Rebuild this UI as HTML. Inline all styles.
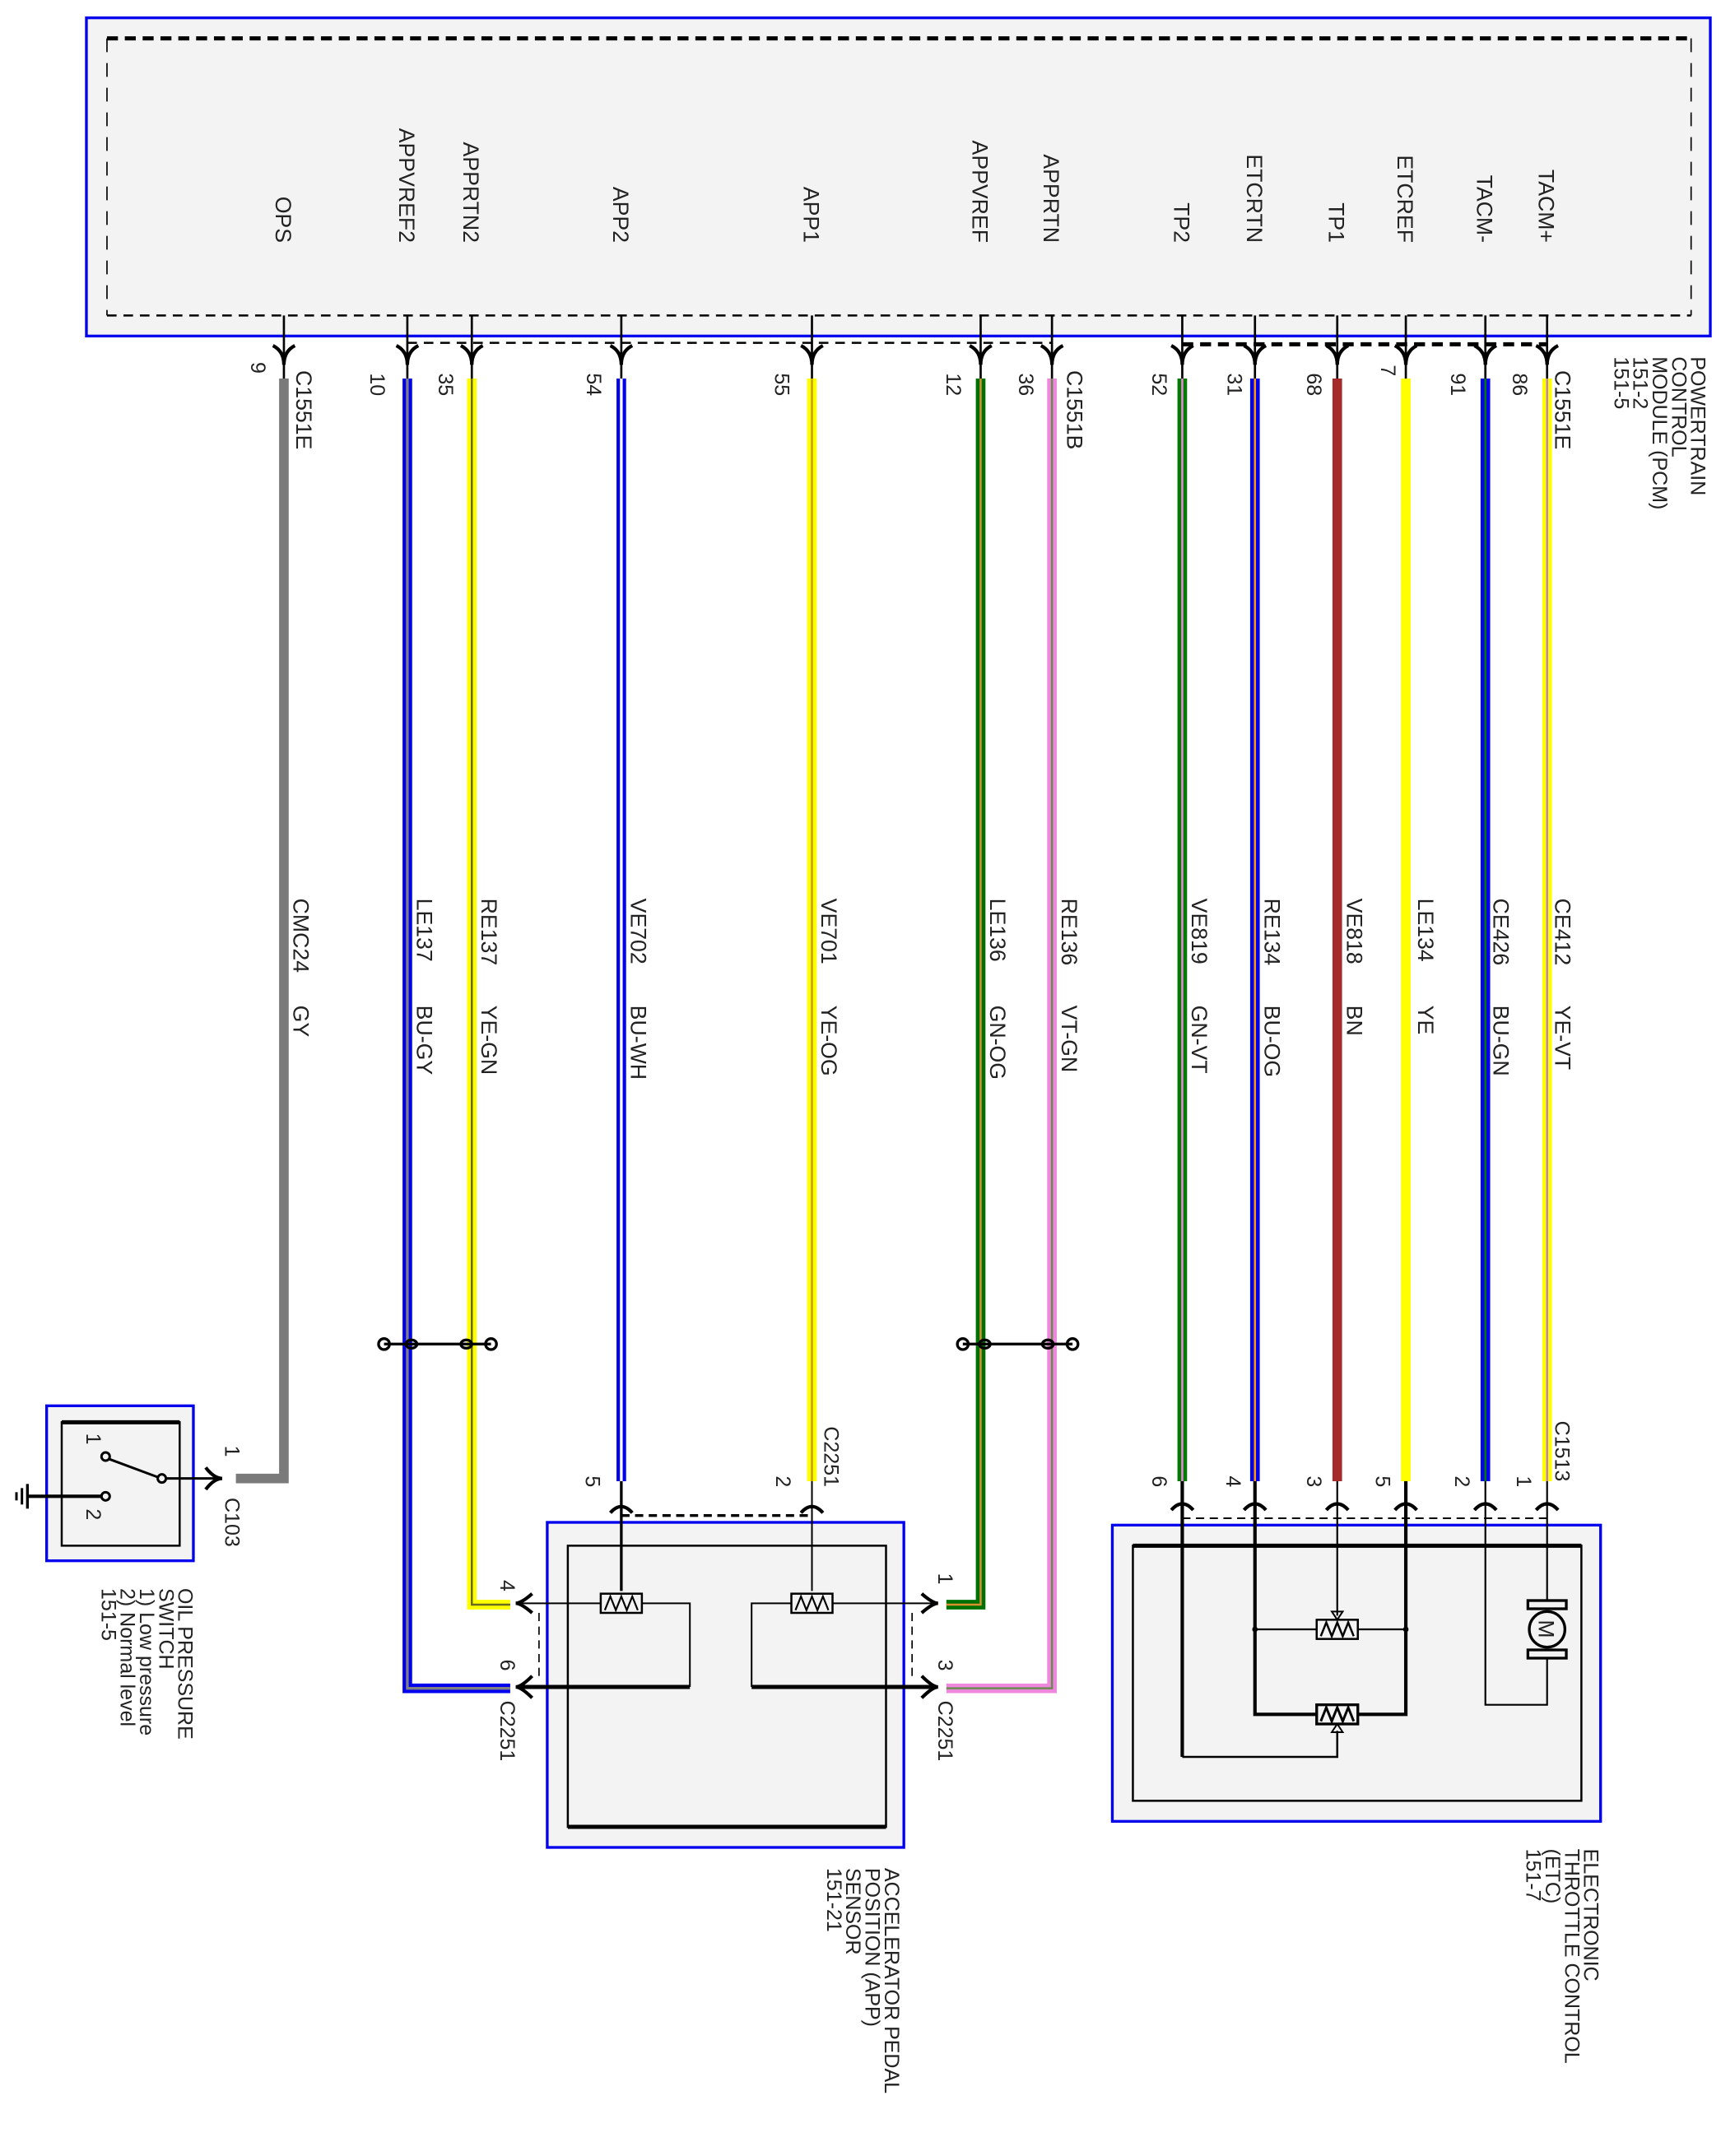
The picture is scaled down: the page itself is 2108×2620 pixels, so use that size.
<!DOCTYPE html>
<html><head><meta charset="utf-8"><style>
html,body{margin:0;padding:0;background:#fff}
svg{display:block}
text{font-family:"Liberation Sans",Arial,sans-serif;fill:#222}
</style></head><body>
<svg width="2108" height="2620" viewBox="0 0 1265 1572" preserveAspectRatio="none" xmlns="http://www.w3.org/2000/svg">
<rect width="1265" height="1572" fill="#fff"/>
<!-- PCM -->
<rect x="63" y="13" width="1184" height="232" fill="#f3f3f3" stroke="#0000ee" stroke-width="2"/>
<line x1="78" y1="28" x2="1233" y2="28" stroke="#000" stroke-width="3" stroke-dasharray="8,5"/>
<line x1="78" y1="230" x2="1233" y2="230" stroke="#000" stroke-width="1.5" stroke-dasharray="7,5"/>
<line x1="78" y1="28" x2="78" y2="230" stroke="#000" stroke-width="1" stroke-dasharray="10,8"/>
<line x1="1233" y1="28" x2="1233" y2="230" stroke="#000" stroke-width="1" stroke-dasharray="10,8"/>
<line x1="297" y1="250" x2="767" y2="250" stroke="#000" stroke-width="1.5" stroke-dasharray="7,5"/>
<line x1="862" y1="251" x2="1128" y2="251" stroke="#000" stroke-width="3" stroke-dasharray="8,5"/>

<g font-size="16">
<text transform="translate(201,177) rotate(90)" text-anchor="end">OPS</text>
<text transform="translate(291,177) rotate(90)" text-anchor="end">APPVREF2</text>
<text transform="translate(338,177) rotate(90)" text-anchor="end">APPRTN2</text>
<text transform="translate(447,177) rotate(90)" text-anchor="end">APP2</text>
<text transform="translate(586,177) rotate(90)" text-anchor="end">APP1</text>
<text transform="translate(709,177) rotate(90)" text-anchor="end">APPVREF</text>
<text transform="translate(761,177) rotate(90)" text-anchor="end">APPRTN</text>
<text transform="translate(856,177) rotate(90)" text-anchor="end">TP2</text>
<text transform="translate(909,177) rotate(90)" text-anchor="end">ETCRTN</text>
<text transform="translate(969,177) rotate(90)" text-anchor="end">TP1</text>
<text transform="translate(1019,177) rotate(90)" text-anchor="end">ETCREF</text>
<text transform="translate(1077,177) rotate(90)" text-anchor="end">TACM-</text>
<text transform="translate(1122,177) rotate(90)" text-anchor="end">TACM+</text>
</g>

<g stroke="#000" fill="none">
<g stroke-width="1.6">
<line x1="207" y1="230" x2="207" y2="276"/><line x1="297" y1="230" x2="297" y2="276"/><line x1="344" y1="230" x2="344" y2="276"/><line x1="453" y1="230" x2="453" y2="276"/><line x1="592" y1="230" x2="592" y2="276"/><line x1="715" y1="230" x2="715" y2="276"/><line x1="767" y1="230" x2="767" y2="276"/><line x1="862" y1="230" x2="862" y2="276"/><line x1="915" y1="230" x2="915" y2="276"/><line x1="975" y1="230" x2="975" y2="276"/><line x1="1025" y1="230" x2="1025" y2="276"/><line x1="1083" y1="230" x2="1083" y2="276"/><line x1="1128" y1="230" x2="1128" y2="276"/>
</g>
<g stroke-width="2.5">
<path d="M199 252 Q207 256 207 266 Q207 256 215 252"/><path d="M289 252 Q297 256 297 266 Q297 256 305 252"/><path d="M336 252 Q344 256 344 266 Q344 256 352 252"/><path d="M445 252 Q453 256 453 266 Q453 256 461 252"/><path d="M584 252 Q592 256 592 266 Q592 256 600 252"/><path d="M707 252 Q715 256 715 266 Q715 256 723 252"/><path d="M759 252 Q767 256 767 266 Q767 256 775 252"/><path d="M854 252 Q862 256 862 266 Q862 256 870 252"/><path d="M907 252 Q915 256 915 266 Q915 256 923 252"/><path d="M967 252 Q975 256 975 266 Q975 256 983 252"/><path d="M1017 252 Q1025 256 1025 266 Q1025 256 1033 252"/><path d="M1075 252 Q1083 256 1083 266 Q1083 256 1091 252"/><path d="M1120 252 Q1128 256 1128 266 Q1128 256 1136 252"/>
</g>
</g>

<g font-size="15">
<text transform="translate(183,264) rotate(90)">9</text>
<text transform="translate(270,272) rotate(90)">10</text>
<text transform="translate(320,272) rotate(90)">35</text>
<text transform="translate(428,272) rotate(90)">54</text>
<text transform="translate(565,272) rotate(90)">55</text>
<text transform="translate(690,272) rotate(90)">12</text>
<text transform="translate(743,272) rotate(90)">36</text>
<text transform="translate(840,272) rotate(90)">52</text>
<text transform="translate(895,272) rotate(90)">31</text>
<text transform="translate(953,272) rotate(90)">68</text>
<text transform="translate(1007,266) rotate(90)">7</text>
<text transform="translate(1058,272) rotate(90)">91</text>
<text transform="translate(1103,272) rotate(90)">86</text>
<text transform="translate(216,270) rotate(90)" font-size="16">C1551E</text>
<text transform="translate(778,270) rotate(90)" font-size="16">C1551B</text>
<text transform="translate(1134,270) rotate(90)" font-size="16">C1551E</text>
<text transform="translate(1233,260) rotate(90)">POWERTRAIN</text>
<text transform="translate(1219,260) rotate(90)">CONTROL</text>
<text transform="translate(1205,260) rotate(90)">MODULE (PCM)</text>
<text transform="translate(1191,260) rotate(90)">151-2</text>
<text transform="translate(1177,260) rotate(90)">151-5</text>
</g>

<!-- wires -->
<g fill="none" stroke-linejoin="miter">
<polyline points="207,276 207,1078 172,1078" stroke="#7a7a7a" stroke-width="7"/>
<polyline points="297,276 297,1231 372,1231" stroke="#0000ee" stroke-width="7"/>
<polyline points="297,276 297,1231 372,1231" stroke="#808080" stroke-width="2"/>
<polyline points="344,276 344,1170 372,1170" stroke="#ffff00" stroke-width="7"/>
<polyline points="344,276 344,1170 372,1170" stroke="#6a6a20" stroke-width="1.5"/>
<polyline points="453,276 453,1080" stroke="#0000ee" stroke-width="7"/>
<polyline points="453,276 453,1080" stroke="#ffffff" stroke-width="2"/>
<polyline points="592,276 592,1080" stroke="#ffff00" stroke-width="7"/>
<polyline points="592,276 592,1080" stroke="#c8a000" stroke-width="1.5"/>
<polyline points="715,276 715,1170 690,1170" stroke="#007000" stroke-width="7"/>
<polyline points="715,276 715,1170 690,1170" stroke="#d89030" stroke-width="1.5"/>
<polyline points="767,276 767,1231 690,1231" stroke="#ee88dd" stroke-width="7"/>
<polyline points="767,276 767,1231 690,1231" stroke="#6a8a50" stroke-width="1.5"/>
<line x1="862" y1="276" x2="862" y2="1080" stroke="#007a00" stroke-width="7"/>
<line x1="862" y1="276" x2="862" y2="1080" stroke="#ee88dd" stroke-width="1.5"/>
<line x1="915" y1="276" x2="915" y2="1080" stroke="#0000ee" stroke-width="7"/>
<line x1="915" y1="276" x2="915" y2="1080" stroke="#ff9900" stroke-width="1.5"/>
<line x1="975" y1="276" x2="975" y2="1080" stroke="#a52a2a" stroke-width="7"/>
<line x1="1025" y1="276" x2="1025" y2="1080" stroke="#ffff00" stroke-width="7"/>
<line x1="1083" y1="276" x2="1083" y2="1080" stroke="#0000ee" stroke-width="7"/>
<line x1="1083" y1="276" x2="1083" y2="1080" stroke="#007a00" stroke-width="1.5"/>
<line x1="1128" y1="276" x2="1128" y2="1080" stroke="#ffff00" stroke-width="7"/>
<line x1="1128" y1="276" x2="1128" y2="1080" stroke="#c080c0" stroke-width="1.5"/>
</g>

<g font-size="16">
<text transform="translate(214,655) rotate(90)">CMC24</text><text transform="translate(214,733) rotate(90)">GY</text>
<text transform="translate(304,655) rotate(90)">LE137</text><text transform="translate(304,733) rotate(90)">BU-GY</text>
<text transform="translate(351,655) rotate(90)">RE137</text><text transform="translate(351,733) rotate(90)">YE-GN</text>
<text transform="translate(460,655) rotate(90)">VE702</text><text transform="translate(460,733) rotate(90)">BU-WH</text>
<text transform="translate(599,655) rotate(90)">VE701</text><text transform="translate(599,733) rotate(90)">YE-OG</text>
<text transform="translate(722,655) rotate(90)">LE136</text><text transform="translate(722,733) rotate(90)">GN-OG</text>
<text transform="translate(774,655) rotate(90)">RE136</text><text transform="translate(774,733) rotate(90)">VT-GN</text>
<text transform="translate(869,655) rotate(90)">VE819</text><text transform="translate(869,733) rotate(90)">GN-VT</text>
<text transform="translate(922,655) rotate(90)">RE134</text><text transform="translate(922,733) rotate(90)">BU-OG</text>
<text transform="translate(982,655) rotate(90)">VE818</text><text transform="translate(982,733) rotate(90)">BN</text>
<text transform="translate(1034,655) rotate(90)">LE134</text><text transform="translate(1034,733) rotate(90)">YE</text>
<text transform="translate(1089,655) rotate(90)">CE426</text><text transform="translate(1089,733) rotate(90)">BU-GN</text>
<text transform="translate(1134,655) rotate(90)">CE412</text><text transform="translate(1134,733) rotate(90)">YE-VT</text>
</g>

<g stroke="#000" stroke-width="2" fill="none">
<line x1="280" y1="980" x2="358" y2="980"/>
<ellipse cx="280" cy="980" rx="4" ry="4"/><ellipse cx="300" cy="980" rx="4" ry="3"/><ellipse cx="340" cy="980" rx="4" ry="3"/><ellipse cx="358" cy="980" rx="4" ry="4"/>
<line x1="702" y1="980" x2="782" y2="980"/>
<ellipse cx="702" cy="980" rx="4" ry="4"/><ellipse cx="718" cy="980" rx="4" ry="3"/><ellipse cx="764" cy="980" rx="4" ry="3"/><ellipse cx="782" cy="980" rx="4" ry="4"/>
</g>

<!-- OIL PRESSURE SWITCH -->
<rect x="34" y="1025" width="107" height="113" fill="#f3f3f3" stroke="#0000ee" stroke-width="2"/>
<rect x="45" y="1037" width="86" height="90" fill="none" stroke="#000" stroke-width="1.5"/>
<line x1="45" y1="1037" x2="131" y2="1037" stroke="#000" stroke-width="3"/>
<g stroke="#000" fill="none" stroke-width="1.8">
<circle cx="77" cy="1062" r="3"/><circle cx="77" cy="1091" r="3"/><circle cx="118" cy="1078" r="3"/>
<line x1="115" y1="1077" x2="80" y2="1064"/>
<line x1="121" y1="1078" x2="160" y2="1078"/>
<path d="M150 1070 Q156 1078 162 1078 Q156 1078 150 1086" stroke-width="2.5"/>
<line x1="20" y1="1091" x2="74" y2="1091" stroke-width="2.5"/>
<line x1="20" y1="1082" x2="20" y2="1100" stroke-width="2"/><line x1="16" y1="1085" x2="16" y2="1097"/><line x1="12" y1="1088" x2="12" y2="1094"/>
</g>
<g font-size="15">
<text transform="translate(63,1045) rotate(90)">1</text>
<text transform="translate(63,1100) rotate(90)">2</text>
<text transform="translate(164,1054) rotate(90)">1</text>
<text transform="translate(164,1092) rotate(90)">C103</text>
<text transform="translate(130,1158) rotate(90)">OIL PRESSURE</text>
<text transform="translate(116,1158) rotate(90)">SWITCH</text>
<text transform="translate(102,1158) rotate(90)">1) Low pressure</text>
<text transform="translate(88,1158) rotate(90)">2) Normal level</text>
<text transform="translate(74,1158) rotate(90)">151-5</text>
</g>

<!-- APP sensor -->
<rect x="399" y="1110" width="260" height="237" fill="#f3f3f3" stroke="#0000ee" stroke-width="2"/>
<rect x="414" y="1127" width="232" height="205" fill="none" stroke="#000" stroke-width="1.5"/>
<line x1="414" y1="1332" x2="646" y2="1332" stroke="#000" stroke-width="3"/>
<line x1="453" y1="1105" x2="592" y2="1105" stroke="#000" stroke-width="2" stroke-dasharray="6,4"/>
<g stroke="#000" fill="none">
<line x1="453" y1="1080" x2="453" y2="1160" stroke-width="2"/>
<line x1="592" y1="1080" x2="592" y2="1160" stroke-width="1.2"/>
<path d="M445 1103 Q453 1094 461 1103" stroke-width="2.5"/><path d="M584 1103 Q592 1094 600 1103" stroke-width="2.5"/>
<rect x="438" y="1162" width="30" height="14" fill="#f3f3f3" stroke-width="1.5"/>
<rect x="577" y="1162" width="30" height="14" fill="#f3f3f3" stroke-width="1.5"/>
<polyline points="441,1174 445,1164 449,1174 453,1164 457,1174 461,1164 465,1174" stroke-width="1.3"/>
<polyline points="580,1174 584,1164 588,1174 592,1164 596,1174 600,1164 604,1174" stroke-width="1.3"/>
<line x1="380" y1="1169" x2="438" y2="1169" stroke-width="1.2"/>
<polyline points="468,1169 503,1169 503,1230" stroke-width="1.2"/>
<line x1="380" y1="1230" x2="503" y2="1230" stroke-width="3"/>
<line x1="607" y1="1169" x2="680" y2="1169" stroke-width="1.2"/>
<polyline points="577,1169 548,1169 548,1230" stroke-width="1.2"/>
<line x1="548" y1="1230" x2="680" y2="1230" stroke-width="3"/>
<path d="M388 1162 Q380 1169 376 1169 Q380 1169 388 1176" stroke-width="2.5"/>
<path d="M388 1222 Q380 1230 376 1230 Q380 1230 388 1238" stroke-width="2.5"/>
<path d="M672 1162 Q680 1169 684 1169 Q680 1169 672 1176" stroke-width="2.5"/>
<path d="M672 1222 Q680 1230 684 1230 Q680 1230 672 1238" stroke-width="2.5"/>
<line x1="393" y1="1176" x2="393" y2="1222" stroke-width="1" stroke-dasharray="6,4"/>
<line x1="665" y1="1176" x2="665" y2="1222" stroke-width="1" stroke-dasharray="6,4"/>
</g>
<g font-size="15">
<text transform="translate(427,1076) rotate(90)">5</text>
<text transform="translate(566,1076) rotate(90)">2</text>
<text transform="translate(601,1040) rotate(90)">C2251</text>
<text transform="translate(365,1152) rotate(90)">4</text>
<text transform="translate(365,1210) rotate(90)">6</text>
<text transform="translate(365,1240) rotate(90)">C2251</text>
<text transform="translate(684,1147) rotate(90)">1</text>
<text transform="translate(684,1210) rotate(90)">3</text>
<text transform="translate(684,1240) rotate(90)">C2251</text>
<text transform="translate(645,1362) rotate(90)">ACCELERATOR PEDAL</text>
<text transform="translate(631,1362) rotate(90)">POSITION (APP)</text>
<text transform="translate(617,1362) rotate(90)">SENSOR</text>
<text transform="translate(603,1362) rotate(90)">151-21</text>
</g>

<!-- ETC -->
<rect x="811" y="1112" width="356" height="216" fill="#f3f3f3" stroke="#0000ee" stroke-width="2"/>
<rect x="826" y="1127" width="327" height="186" fill="none" stroke="#000" stroke-width="1.5"/>
<line x1="826" y1="1127" x2="1153" y2="1127" stroke="#000" stroke-width="3"/>
<line x1="862" y1="1107" x2="1128" y2="1107" stroke="#000" stroke-width="1.2" stroke-dasharray="6,4"/>
<g stroke="#000" fill="none">
<path d="M854 1101 Q862 1092 870 1101" stroke-width="2.5"/><path d="M907 1101 Q915 1092 923 1101" stroke-width="2.5"/><path d="M967 1101 Q975 1092 983 1101" stroke-width="2.5"/><path d="M1017 1101 Q1025 1092 1033 1101" stroke-width="2.5"/><path d="M1075 1101 Q1083 1092 1091 1101" stroke-width="2.5"/><path d="M1120 1101 Q1128 1092 1136 1101" stroke-width="2.5"/>
<line x1="862" y1="1080" x2="862" y2="1281" stroke-width="2.5"/>
<polyline points="862,1281 975,1281 975,1262" stroke-width="1.5"/>
<polyline points="915,1080 915,1250 960,1250" stroke-width="2.5"/>
<polyline points="1025,1080 1025,1250 990,1250" stroke-width="2.5"/>
<line x1="915" y1="1188" x2="960" y2="1188" stroke-width="1.3"/>
<line x1="990" y1="1188" x2="1025" y2="1188" stroke-width="1.3"/>
<line x1="975" y1="1080" x2="975" y2="1178" stroke-width="1.3"/>
<polyline points="1083,1080 1083,1243 1128,1243 1128,1208" stroke-width="1.3"/>
<line x1="1128" y1="1080" x2="1128" y2="1168" stroke-width="1.3"/>
<rect x="960" y="1181" width="30" height="14" fill="#f3f3f3" stroke-width="1.5"/>
<rect x="960" y="1243" width="30" height="14" fill="#f3f3f3" stroke-width="2"/>
<polyline points="963,1193 967,1183 971,1193 975,1183 979,1193 983,1183 987,1193" stroke-width="1.5"/>
<polyline points="963,1255 967,1245 971,1255 975,1245 979,1255 983,1245 987,1255" stroke-width="1.8"/>
<path d="M971 1175 L979 1175 L975 1181 Z" stroke-width="1.2"/>
<path d="M971 1263 L979 1263 L975 1257 Z" stroke-width="1.2"/>
<circle cx="1128" cy="1188" r="13" stroke-width="2"/>
<rect x="1114" y="1167" width="28" height="6" fill="#f3f3f3" stroke-width="2"/>
<rect x="1114" y="1203" width="28" height="6" fill="#f3f3f3" stroke-width="2"/>
</g>
<circle cx="915" cy="1188" r="2" fill="#000"/><circle cx="1025" cy="1188" r="2" fill="#000"/>
<text transform="translate(1122,1181) rotate(90)" font-size="16">M</text>
<g font-size="15">
<text transform="translate(840,1076) rotate(90)">6</text>
<text transform="translate(894,1076) rotate(90)">4</text>
<text transform="translate(953,1076) rotate(90)">3</text>
<text transform="translate(1003,1076) rotate(90)">5</text>
<text transform="translate(1061,1076) rotate(90)">2</text>
<text transform="translate(1106,1076) rotate(90)">1</text>
<text transform="translate(1134,1036) rotate(90)">C1513</text>
<text transform="translate(1155,1348) rotate(90)">ELECTRONIC</text>
<text transform="translate(1141,1348) rotate(90)">THROTTLE CONTROL</text>
<text transform="translate(1127,1348) rotate(90)">(ETC)</text>
<text transform="translate(1113,1348) rotate(90)">151-7</text>
</g>
</svg>
</body></html>
